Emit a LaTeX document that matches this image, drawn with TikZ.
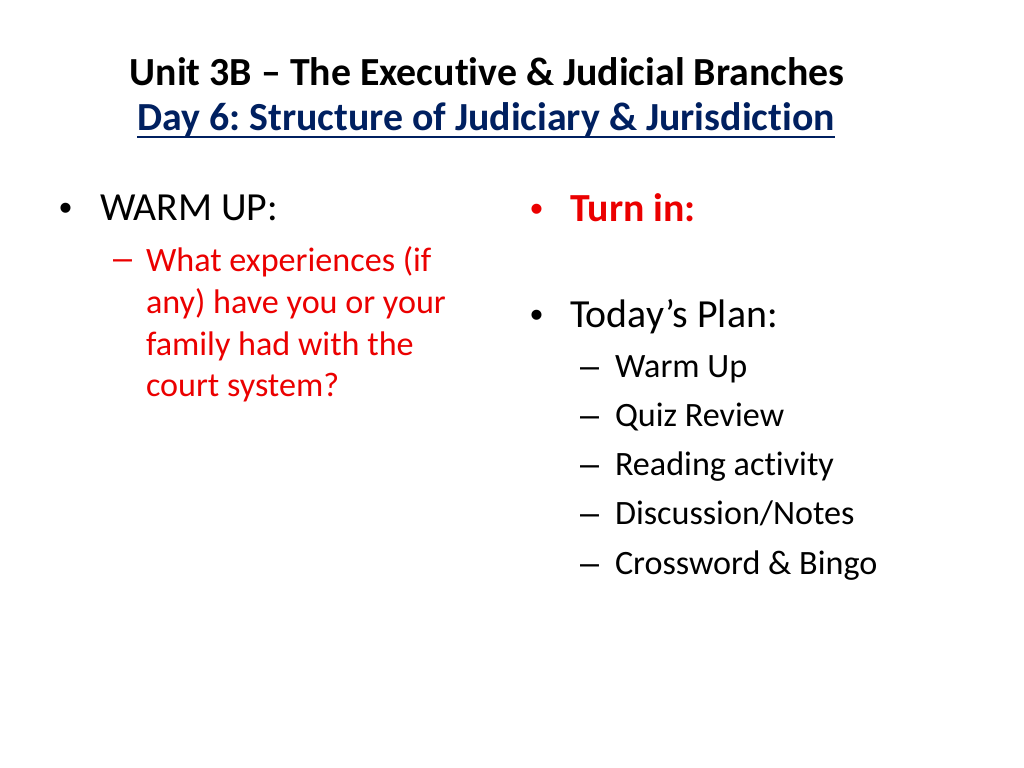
\documentclass[tikz,border=0pt]{standalone}
\usepackage{fontspec}
\setmainfont{Carlito}[Ligatures={NoCommon}]
\newfontfamily\bulletfont{Liberation Sans}
\usetikzlibrary{positioning}
\frenchspacing
\definecolor{slidered}{RGB}{235,0,0}
\definecolor{slidenavy}{RGB}{0,32,96}
\tikzset{%
  inner sep=0pt,%
  outer sep=0pt,%
  title text/.style={font=\fontsize{28}{34}\selectfont\bfseries},%
  main item/.style={anchor=base west,font=\fontsize{28}{34}\selectfont},%
  sub item/.style={anchor=base west,font=\fontsize{24}{29}\selectfont},%
  bullet mark/.style={anchor=base west,font=\bulletfont\fontsize{26}{30}\selectfont},%
  dash mark/.style={anchor=base west,font=\bulletfont\fontsize{24}{29}\selectfont}%
}
\begin{document}
\begin{tikzpicture}[x=0.703125pt,y=-0.703125pt] % slide at 1024 x 768 px

\path[fill=white] (0,0) rectangle (1024,768);
\useasboundingbox (0,0) rectangle (1024,768);

% heading
\node[title text,anchor=base] (title) at (487,86) {Unit 3B – The Executive \& Judicial Branches};
\node[title text,anchor=base,text=slidenavy] (subtitle) at (486,131) {Day 6: Structure of Judiciary \& Jurisdiction};
\draw[slidenavy,line width=1.4pt] ([yshift=-4pt]subtitle.base west) -- ([yshift=-4pt]subtitle.base east);

% left column
\node[bullet mark] (dotwarm) at (59,221) {•};
\node[main item] (warmup) at (100,221) {WARM UP:};
\node[dash mark,text=slidered] (dashq) at (113,270) {–};
\node[sub item,text=slidered,anchor=north west,align=left,
      font=\fontsize{24}{29.3}\selectfont] (question) at (146,247)
  {What experiences (if\\any) have you or your\\family had with the\\court system?};

% right column
\node[bullet mark,text=slidered] (dotturn) at (530,222) {•};
\node[main item,text=slidered,font=\fontsize{28}{34}\selectfont\bfseries] (turnin) at (570,222) {Turn in:};
\node[bullet mark] (dotplan) at (530,327) {•};
\node[main item] (plan) at (570,327) {Today’s Plan:};
\foreach \step [count=\i] in {Warm Up,Quiz Review,Reading activity,Discussion/Notes,Crossword \& Bingo}{
  \pgfmathsetmacro\y{377+49.3*(\i-1)}
  \node[dash mark] (dash\i) at (580,\y) {–};
  \node[sub item] (plan\i) at (615,\y) {\step};
}

\end{tikzpicture}
\end{document}
